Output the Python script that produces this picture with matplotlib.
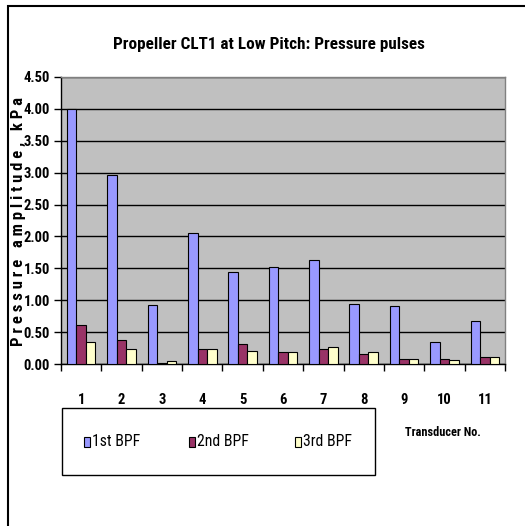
import matplotlib
matplotlib.use("Agg")
import matplotlib.pyplot as plt
import matplotlib.patches as patches
import matplotlib.font_manager as fm
import numpy as np

# pressure pulse amplitudes (kPa) per transducer
transducers = ['1', '2', '3', '4', '5', '6', '7', '8', '9', '10', '11']
bpf1 = [4.00, 2.97, 0.93, 2.05, 1.45, 1.52, 1.63, 0.94, 0.91, 0.35, 0.67]
bpf2 = [0.61, 0.37, 0.02, 0.23, 0.32, 0.19, 0.24, 0.16, 0.08, 0.08, 0.11]
bpf3 = [0.34, 0.23, 0.05, 0.24, 0.21, 0.19, 0.27, 0.19, 0.08, 0.06, 0.11]
series_names = ['1st BPF', '2nd BPF', '3rd BPF']
colors = ['#9999FF', '#993366', '#FFFFCC']

# pick a narrow sans if one is around
names = {f.name for f in fm.fontManager.ttflist}
fnames = [f.fname for f in fm.fontManager.ttflist]
stretch = 'normal'
scale = 0.8
if 'Liberation Sans Narrow' in names:
    family = 'Liberation Sans Narrow'
    scale = 1.0
elif 'Roboto Condensed' in names:
    family = 'Roboto Condensed'
    scale = 1.0
elif any('DejaVuSansCondensed' in f for f in fnames):
    family = 'DejaVu Sans'
    stretch = 'condensed'
    scale = 0.9
else:
    family = 'Liberation Sans'
plt.rcParams['font.family'] = [family, 'DejaVu Sans']
plt.rcParams['font.stretch'] = stretch

fig = plt.figure(figsize=(5.25, 5.26), dpi=100)
fig.patch.set_facecolor('white')

# chart frame (runs off the right and bottom edges)
frame = patches.Rectangle((8 / 525, -0.2), 1.2, 1.2 - 6 / 526,
                          transform=fig.transFigure, fill=False,
                          edgecolor='black', linewidth=1.5)
fig.patches.append(frame)

ax = fig.add_axes([61 / 525, 1 - 364 / 526, 444 / 525, 287 / 526])
ax.set_facecolor('#C0C0C0')

x = np.arange(len(transducers))
w = 0.235
for i, (vals, col) in enumerate(zip([bpf1, bpf2, bpf3], colors)):
    ax.bar(x + (i - 1) * w, vals, w, color=col, edgecolor='black',
           linewidth=0.8, label=series_names[i], zorder=3)

ax.set_xlim(-0.5, len(transducers) - 0.5)
ax.set_ylim(0, 4.5)
yt = np.arange(0, 4.51, 0.5)
ax.set_yticks(yt)
ax.set_yticklabels(['%.2f' % v for v in yt], fontsize=10.5 * scale, fontweight='bold')
ax.yaxis.grid(True, color='black', linewidth=1.0, zorder=1)
ax.set_axisbelow(True)

# ticks between categories, labels at centres
ax.set_xticks(np.arange(-0.5, len(transducers), 1.0))
ax.set_xticklabels([])
ax.set_xticks(x, minor=True)
ax.set_xticklabels(transducers, minor=True, fontsize=10.5 * scale, fontweight='bold')
ax.tick_params(axis='x', which='major', length=5, direction='out', width=1)
ax.tick_params(axis='x', which='minor', length=0, pad=21)
ax.tick_params(axis='y', length=5, direction='out', width=1, pad=3)

for s in ['top', 'right']:
    ax.spines[s].set_color('#808080')
    ax.spines[s].set_linewidth(1.0)
for s in ['left', 'bottom']:
    ax.spines[s].set_color('black')
    ax.spines[s].set_linewidth(1.0)

fig.text(269 / 525, 1 - 44 / 526, 'Propeller CLT1 at Low Pitch: Pressure pulses',
         ha='center', va='center', fontsize=12.3 * scale, fontweight='bold')

fig.text(18 / 525, 1 - 222 / 526, 'P r e s s u r e   a m p l i t u d e ,   k P a',
         rotation=90, ha='center', va='center', fontsize=12 * scale, fontweight='bold')

fig.text(443 / 525, 1 - 432 / 526, 'Transducer No.', ha='center', va='center',
         fontsize=8.8 * scale, fontweight='bold')

# legend box
leg_box = patches.Rectangle((62 / 525, 1 - 475 / 526), 313 / 525, 67 / 526,
                            transform=fig.transFigure, facecolor='white',
                            edgecolor='black', linewidth=1.0)
fig.patches.append(leg_box)
for px, name, col in zip([87, 192, 298], series_names, colors):
    fig.patches.append(patches.Rectangle((px / 525 - 3 / 525, 1 - 447 / 526),
                                         6 / 525, 10 / 526,
                                         transform=fig.transFigure,
                                         facecolor=col, edgecolor='black',
                                         linewidth=0.8))
    fig.text((px + 5) / 525, 1 - 442 / 526, name, ha='left', va='center',
             fontsize=11.3 * scale)

fig.savefig('out.png', dpi=100)
